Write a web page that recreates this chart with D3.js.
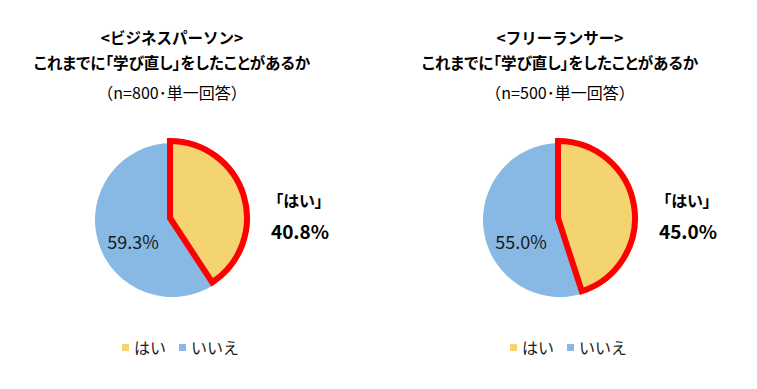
<!DOCTYPE html>
<html>
<head>
<meta charset="utf-8">
<script src="https://cdn.jsdelivr.net/npm/d3@7"></script>
<style>
  body { margin: 0; background: #fff; }
  svg { display: block; font-family: "Noto Sans CJK JP", "Noto Sans", sans-serif; }
  .palt { font-feature-settings: "palt"; }
</style>
</head>
<body>
<svg id="mainsvg" width="757" height="389"></svg>
<script>
// data
let categories = ["はい", "いいえ"];
let groupTitles = ["<ビジネスパーソン>", "<フリーランサー>"];
let questionText = "これまでに「学び直し」をしたことがあるか";
let sampleNotes = ["（n=800･単一回答）", "（n=500･単一回答）"];
let yesValues = [40.8, 45.0];
let noValues = [59.3, 55.0];

let colors = d3.scaleOrdinal().domain(categories).range(["#F4D470", "#88B9E5"]);

let svg = d3.select("#mainsvg");
let centers = [172, 560];
let radius = 77;

let pie = d3.pie().sort(null).value(d => d.value);
let arc = d3.arc().innerRadius(0).outerRadius(radius);

groupTitles.forEach(function (title, gi) {
    let cx = centers[gi];
    let g = svg.append("g").attr("class", "chart-g");

    // titles
    g.append("text").attr("x", cx).attr("y", 44).attr("text-anchor", "middle")
        .attr("font-size", 15.5).attr("font-weight", "bold").text(title);
    g.append("text").attr("class", "palt").attr("x", cx).attr("y", 69).attr("text-anchor", "middle")
        .attr("font-size", 15.5).attr("font-weight", "bold").text(questionText);
    g.append("text").attr("x", cx).attr("y", 99).attr("text-anchor", "middle")
        .attr("font-size", 16).text(sampleNotes[gi]);

    let data = [
        {cat: categories[0], value: yesValues[gi]},
        {cat: categories[1], value: noValues[gi]}
    ];
    let arcs = pie(data);

    let pg = g.append("g").attr("transform", "translate(" + cx + ",220)");
    pg.selectAll(".slice").data(arcs).enter()
        .append("path")
        .attr("class", "slice")
        .attr("d", arc)
        .attr("fill", d => colors(d.data.cat));

    // red outline on "yes" slice (slightly offset)
    pg.append("path")
        .attr("d", arc(arcs[0]))
        .attr("transform", "translate(-2,-2)")
        .attr("fill", "none")
        .attr("stroke", "#FF0000")
        .attr("stroke-width", 6)
        .attr("stroke-linejoin", "miter");

    // label inside "no" slice
    g.append("text").attr("x", cx - 39).attr("y", 249).attr("text-anchor", "middle")
        .attr("font-size", 18).attr("fill", "#1a1a1a")
        .text(noValues[gi].toFixed(1) + "%");

    // callout for "yes"
    g.append("text").attr("class", "palt").attr("x", cx + 127).attr("y", 207).attr("text-anchor", "middle")
        .attr("font-size", 16).attr("font-weight", "bold").text("「" + categories[0] + "」");
    g.append("text").attr("x", cx + 128).attr("y", 239).attr("text-anchor", "middle")
        .attr("font-size", 19).attr("font-weight", "bold").text(yesValues[gi].toFixed(1) + "%");

    // legend
    let lg = g.append("g").attr("transform", "translate(" + (cx - 50) + ",348)");
    let lx = [0, 57];
    categories.forEach(function (c, ci) {
        lg.append("rect").attr("x", lx[ci]).attr("y", -4).attr("width", 7).attr("height", 7)
            .attr("fill", colors(c));
        lg.append("text").attr("x", lx[ci] + 12).attr("y", 6).attr("font-size", 16)
            .attr("fill", "#1a1a1a").text(c);
    });
});
</script>
</body>
</html>
